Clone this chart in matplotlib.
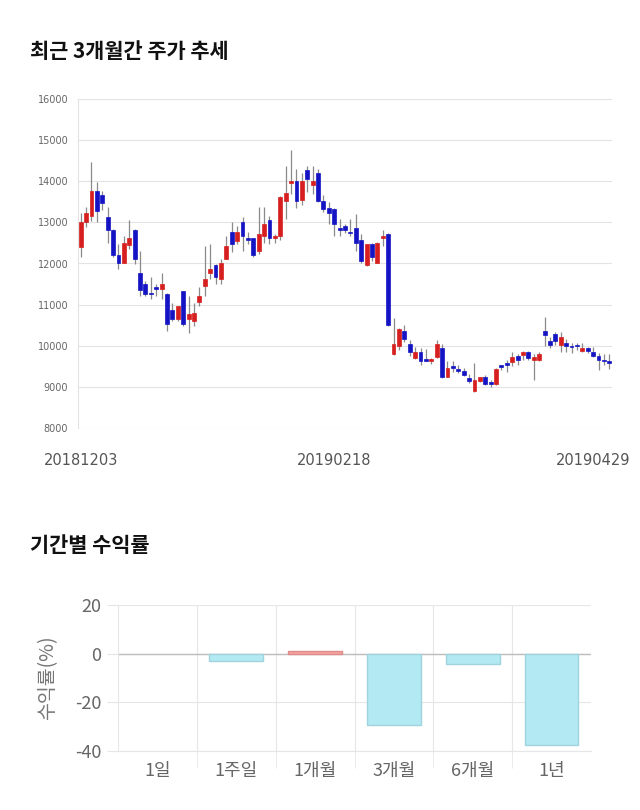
import matplotlib
matplotlib.use("Agg")
import matplotlib.pyplot as plt
import matplotlib.transforms as mtransforms

plt.rcParams["font.family"] = ["Noto Sans CJK KR", "DejaVu Sans"]

# daily candles, 2018-12-03 .. 2019-04-29
opens = [12400, 13020, 13160, 13760, 13660, 13120, 12810, 12210, 12010, 12460,
         12810, 11760, 11510, 11270, 11420, 11370, 11270, 10860, 10660, 11320,
         10660, 10600, 11070, 11460, 11760, 11960, 11620, 12120, 12760, 12550,
         13020, 12610, 12610, 12310, 12660, 13060, 12610, 12660, 13510, 13960,
         14010, 13550, 14270, 13910, 14210, 13510, 13360, 13320, 12860, 12900,
         12770, 12860, 12570, 11960, 12470, 12010, 12610, 12720, 9810, 10000,
         10350, 10050, 9700, 9840, 9680, 9620, 9720, 9940, 9250, 9490,
         9430, 9390, 9210, 8890, 9140, 9250, 9110, 9080, 9520, 9590,
         9600, 9750, 9780, 9860, 9660, 9660, 10350, 10110, 10290, 10010,
         10070, 10000, 10000, 9880, 9940, 9860, 9740, 9640, 9620]
highs = [13240, 13370, 14460, 13980, 13770, 13380, 12850, 12470, 12680, 13060,
         12830, 12310, 11580, 11660, 11500, 11760, 11280, 11050, 10970, 11330,
         11210, 11050, 11420, 12420, 12470, 11980, 12110, 12660, 13000, 12900,
         13120, 12770, 12620, 13370, 13370, 13150, 12720, 13650, 14380, 14760,
         14310, 14210, 14380, 14360, 14310, 13660, 13500, 13360, 13080, 12960,
         13080, 13200, 12720, 12480, 12500, 12530, 12820, 12730, 10680, 10420,
         10510, 10150, 9980, 9950, 9920, 9700, 10130, 10050, 9620, 9620,
         9530, 9470, 9310, 9570, 9250, 9280, 9170, 9450, 9530, 9660,
         9860, 9810, 9880, 9880, 9790, 9860, 10700, 10220, 10330, 10330,
         10170, 10060, 10060, 10060, 9980, 9980, 9830, 9800, 9800]
lows = [12170, 12880, 13040, 13020, 13290, 12510, 12150, 11860, 12000, 12350,
        11980, 11210, 11200, 11130, 11200, 11130, 10360, 10600, 10600, 10480,
        10320, 10480, 10970, 11210, 11620, 11510, 11510, 12110, 12270, 12470,
        12310, 12470, 12150, 12230, 12500, 12480, 12500, 12560, 13080, 13690,
        13360, 13420, 13730, 13690, 13500, 13260, 12960, 12670, 12670, 12730,
        12670, 12310, 12000, 11940, 12070, 12000, 12430, 10480, 9780, 9900,
        10100, 9740, 9680, 9520, 9620, 9550, 9700, 9210, 9230, 9370,
        9340, 9260, 9090, 8880, 9120, 9040, 8990, 9040, 9410, 9360,
        9510, 9530, 9660, 9660, 9170, 9640, 9990, 9940, 10010, 9840,
        9840, 9830, 9900, 9840, 9830, 9720, 9420, 9520, 9430]
closes = [13000, 13220, 13760, 13270, 13460, 12810, 12210, 12010, 12510, 12610,
          12120, 11360, 11270, 11250, 11370, 11510, 10520, 10660, 10970, 10520,
          10760, 10800, 11210, 11620, 11860, 11660, 12010, 12420, 12470, 12760,
          12680, 12570, 12210, 12720, 12960, 12610, 12660, 13610, 13710, 14010,
          13510, 14010, 14050, 14010, 13510, 13320, 13220, 12960, 12810, 12810,
          12740, 12510, 12050, 12470, 12150, 12510, 12660, 10500, 10050, 10410,
          10160, 9860, 9850, 9620, 9640, 9680, 10050, 9230, 9450, 9470,
          9390, 9300, 9140, 9160, 9230, 9080, 9070, 9430, 9480, 9530,
          9720, 9660, 9840, 9710, 9720, 9800, 10250, 10010, 10110, 10210,
          9990, 9970, 9990, 9940, 9880, 9740, 9660, 9630, 9580]

date_ticks = [0, 47, 98]
date_labels = ["20181203", "20190218", "20190429"]
price_ticks = [8000, 9000, 10000, 11000, 12000, 13000, 14000, 15000, 16000]

periods = ["1일", "1주일", "1개월", "3개월", "6개월", "1년"]
returns = [0.0, -3.1, 1.3, -29.4, -4.1, -37.5]

UP = "#d71f1f"
DOWN = "#1414c4"

fig = plt.figure(figsize=(6.4, 8.1), dpi=100)

# ---- candlestick chart ----
ax = fig.add_axes([78 / 640, 1 - 428 / 810, 534 / 640, 329 / 810])
xs = list(range(len(opens)))
colors = [UP if c >= o else DOWN for o, c in zip(opens, closes)]
bottoms = [min(o, c) for o, c in zip(opens, closes)]
heights = [max(abs(c - o), 30) for o, c in zip(opens, closes)]
ax.vlines(xs, lows, highs, color="#8a8a8a", linewidth=0.9, zorder=2)
ax.bar(xs, heights, bottom=bottoms, width=0.72, color=colors,
       edgecolor=colors, linewidth=0.5, zorder=3)

ax.set_xlim(-0.5, len(opens) - 0.5)
ax.set_ylim(8000, 16000)
ax.set_yticks(price_ticks)
ax.set_yticklabels([str(v) for v in price_ticks], fontsize=7, color="#666666",
                   family=["DejaVu Sans"])
ax.grid(axis="y", color="#e3e3e3", linewidth=0.8)
ax.set_axisbelow(True)
for side in ["top", "right", "bottom"]:
    ax.spines[side].set_visible(False)
ax.spines["left"].set_color("#e3e3e3")
ax.tick_params(axis="both", length=0)
ax.tick_params(axis="y", pad=7)
ax.set_xticks(date_ticks)
ax.set_xticklabels(date_labels, fontsize=10.5, color="#555555", family=["DejaVu Sans"])
ax.tick_params(axis="x", pad=18)
last = ax.get_xticklabels()[-1]
last.set_ha("right")
last.set_transform(last.get_transform() +
                   mtransforms.ScaledTranslation(0.21, 0, fig.dpi_scale_trans))

fig.text(30 / 640, 1 - 52 / 810, "최근 3개월간 주가 추세", fontsize=15,
         fontweight="bold", va="center", ha="left", color="#111111")
fig.text(30 / 640, 1 - 545 / 810, "기간별 수익률", fontsize=15,
         fontweight="bold", va="center", ha="left", color="#111111")

# ---- period return bars ----
bx = fig.add_axes([118 / 640, 1 - 751 / 810, 473 / 640, 146 / 810])
pos = list(range(len(periods)))
bar_colors = ["#f4a4a4" if r > 0 else "#b3e9f2" for r in returns]
edge_colors = ["#e08a8a" if r > 0 else "#9fd3dd" for r in returns]
edge_widths = [1 if r != 0 else 0 for r in returns]
bx.bar(pos, returns, width=0.68, color=bar_colors, edgecolor=edge_colors,
       linewidth=edge_widths, zorder=3)
bx.set_xlim(-0.5, len(periods) - 0.5)
bx.set_ylim(-40, 20)
bx.set_yticks([-40, -20, 0, 20])
bx.set_yticklabels(["-40", "-20", "0", "20"], fontsize=13, color="#666666")
bx.set_xticks(pos)
bx.set_xticklabels(periods, fontsize=13, color="#666666")
bx.set_xticks([p + 0.5 for p in pos[:-1]], minor=True)
bx.grid(axis="y", color="#e6e6e6", linewidth=0.8)
bx.grid(axis="x", which="minor", color="#e6e6e6", linewidth=0.8)
bx.axhline(0, color="#bdbdbd", linewidth=1, zorder=2)
bx.set_axisbelow(True)
for side in ["top", "right"]:
    bx.spines[side].set_visible(False)
bx.spines["left"].set_color("#e6e6e6")
bx.spines["bottom"].set_color("#e6e6e6")
bx.tick_params(axis="x", which="major", length=0, pad=8)
bx.tick_params(axis="x", which="minor", length=12, color="#e6e6e6")
bx.tick_params(axis="y", length=8, color="#e6e6e6", pad=4)
bx.set_ylabel("수익률(%)", fontsize=14, color="#777777", labelpad=12)

fig.savefig("out.png", dpi=100)
plt.close(fig)
